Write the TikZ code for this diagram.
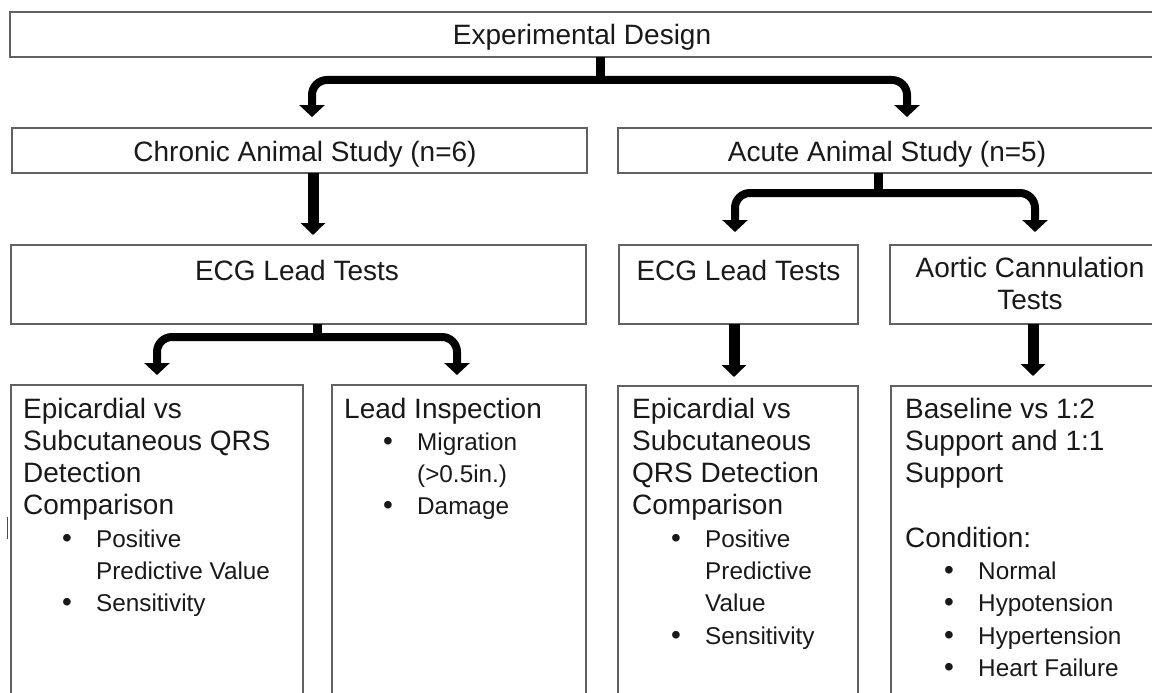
\documentclass[tikz,border=0pt]{standalone}
\usepackage{fontspec}
\setmainfont{Liberation Sans}
\usetikzlibrary{arrows.meta}
\newcommand{\smallfs}{\fontsize{24.3}{32.3}\selectfont}
\newcommand{\bitem}[1]{\makebox[73pt][l]{\hspace*{39pt}\textbullet}{\smallfs #1}}
\newcommand{\bcont}[1]{\hspace*{73pt}{\smallfs #1}}
\begin{document}
\begin{tikzpicture}[x=1pt,y=-1pt,
  box/.style={draw=black!62, line width=1.4pt, anchor=north west, inner sep=0pt, outer sep=0pt},
  lbl/.style={font=\fontsize{28}{32.3}\selectfont, text=black!90, inner sep=0pt, anchor=base},
  body/.style={font=\fontsize{28}{32.3}\selectfont, text=black!90, inner sep=0pt, anchor=base west},
  stem/.style={line width=9pt},
  brk/.style={line width=8pt, rounded corners=15pt, -{Triangle[length=12pt,width=25pt]}},
  arr/.style={line width=11pt, -{Triangle[length=12pt,width=24pt]}}]
\useasboundingbox (0,0) rectangle (1152,693);

% boxes
\node[box, minimum width=1146pt, minimum height=45pt] (exp) at (10,12) {};
\node[box, minimum width=575pt, minimum height=45pt] (chr) at (12,128) {};
\node[box, minimum width=540pt, minimum height=45pt] (acu) at (618,128) {};
\node[box, minimum width=575pt, minimum height=79pt] (ecgL) at (11,245) {};
\node[box, minimum width=239pt, minimum height=79pt] (ecgR) at (619,245) {};
\node[box, minimum width=280pt, minimum height=79pt] (aor) at (890,245) {};
\node[box, minimum width=292pt, minimum height=330pt] (b1) at (11,385) {};
\node[box, minimum width=254pt, minimum height=330pt] (b2) at (332,385) {};
\node[box, minimum width=240pt, minimum height=330pt] (b3) at (618,386) {};
\node[box, minimum width=280pt, minimum height=330pt] (b4) at (891,386) {};

% labels
\node[lbl] (expT) at (582,45) {Experimental Design};
\node[lbl] (chrT) at (305,161) {Chronic Animal Study (n=6)};
\node[lbl] (acuT) at (887,161) {Acute Animal Study (n=5)};
\node[lbl] (ecgLT) at (297,280) {ECG Lead Tests};
\node[lbl] (ecgRT) at (738.5,280) {ECG Lead Tests};
\node[lbl] (aorT1) at (1030,277) {Aortic Cannulation};
\node[lbl] (aorT2) at (1030,309) {Tests};

\node[body] (b1T) at (23,418) {\parbox[t]{300pt}{%
Epicardial vs\\
Subcutaneous QRS\\
Detection\\
Comparison\\
\bitem{Positive}\\
\bcont{Predictive Value}\\
\bitem{Sensitivity}}};
\node[body] (b2T) at (344,418) {\parbox[t]{260pt}{%
Lead Inspection\\
\bitem{Migration}\\
\bcont{(>0.5in.)}\\
\bitem{Damage}}};
\node[body] (b3T) at (632,418) {\parbox[t]{240pt}{%
Epicardial vs\\
Subcutaneous\\
QRS Detection\\
Comparison\\
\bitem{Positive}\\
\bcont{Predictive}\\
\bcont{Value}\\
\bitem{Sensitivity}}};
\node[body] (b4T) at (905,418) {\parbox[t]{250pt}{%
Baseline vs 1:2\\
Support and 1:1\\
Support\\
\mbox{}\\
Condition:\\
\bitem{Normal}\\
\bitem{Hypotension}\\
\bitem{Hypertension}\\
\bitem{Heart Failure}}};

% connector coordinates
\coordinate (j1) at (600,80);
\coordinate (t1) at (312,117);
\coordinate (t2) at (907,117);
\coordinate (j2) at (317,337);
\coordinate (t3) at (157,375);
\coordinate (t4) at (457,375);
\coordinate (j3) at (878,193);
\coordinate (t5) at (735,232);
\coordinate (t6) at (1035,232);
\coordinate (s1) at (313,235);
\coordinate (s2) at (734,377);
\coordinate (s3) at (1033,376);

% brackets
\draw[stem] (exp.south -| j1) -- (j1);
\draw[brk] (j1) -| (t1);
\draw[brk] (j1) -| (t2);
\draw[stem] (ecgL.south -| j2) -- (j2);
\draw[brk] (j2) -| (t3);
\draw[brk] (j2) -| (t4);
\draw[stem] (acu.south -| j3) -- (j3);
\draw[brk] (j3) -| (t5);
\draw[brk] (j3) -| (t6);

% straight arrows
\draw[arr] (chr.south -| s1) -- (s1);
\draw[arr] (ecgR.south -| s2) -- (s2);
\draw[arr] (aor.south -| s3) -- (s3);

% small stray mark at left
\draw[black!70, line width=1.3pt] (7.7,517) -- (7.7,539);
\end{tikzpicture}
\end{document}
